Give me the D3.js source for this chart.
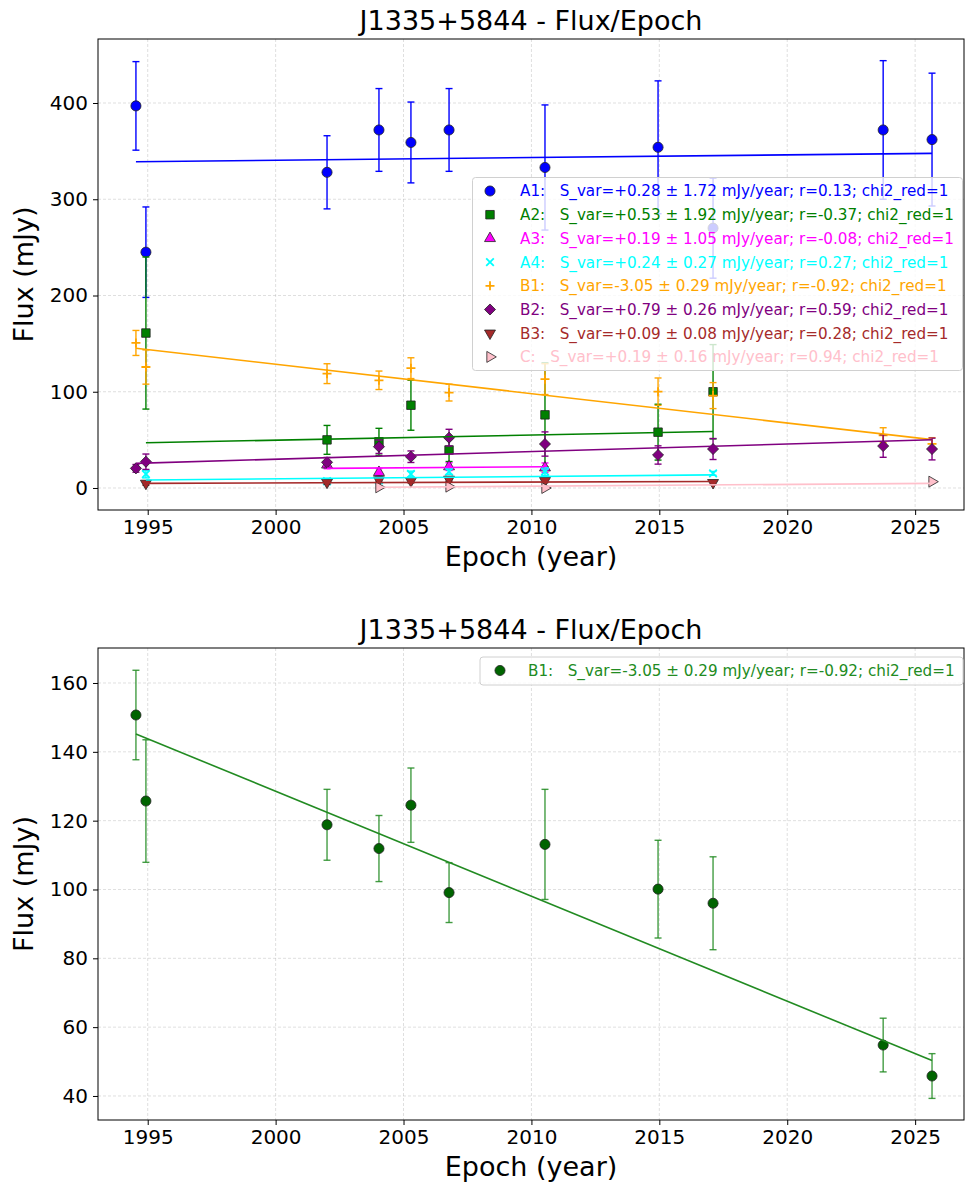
<!DOCTYPE html>
<html>
<head>
<meta charset="utf-8">
<script src="https://cdn.jsdelivr.net/npm/d3@7"></script>
<style>
  html, body { margin: 0; padding: 0; background: #fff; }
  svg { display: block; font-family: "DejaVu Sans", sans-serif; }
  .leg text { white-space: pre; }
</style>
</head>
<body>
<svg id="chart" width="965" height="1185"></svg>
<script>
// Observation epochs (decimal year)
const epochsAll = [1994.54, 1994.93, 2002.01, 2004.04, 2005.29, 2006.78, 2010.53, 2014.95, 2017.10, 2023.75, 2025.66];
const epochsA2 = [1994.93, 2002.01, 2004.04, 2005.29, 2006.78, 2010.53, 2014.95, 2017.10];
const epochsA3 = [2002.01, 2004.04, 2006.78, 2010.53];
const epochsA4 = [1994.93, 2002.01, 2004.04, 2005.29, 2006.78, 2010.53, 2017.10];
const epochsB3 = [1994.93, 2002.01, 2004.04, 2005.29, 2006.78, 2010.53, 2017.10];
const epochsC  = [2004.04, 2006.78, 2010.53, 2025.66];

// Component flux densities (mJy) and 1-sigma errors
const fluxA1 = [397, 245, 328, 372, 359, 372, 333, 354, 270, 372, 362];
const errA1  = [46, 47, 38, 43, 42, 43, 65, 69, 52, 72, 69];
const fluxA2 = [161, 50, 48, 86, 39.5, 76, 58, 100];
const errA2  = [79, 15, 14, 26, 12, 54, 29, 49];
const fluxA3 = [24, 16.3, 22.2, 21];
const errA3  = [4, 4, 4, 5];
const fluxA4 = [14.5, 7, 8, 14.5, 17, 17, 15.2];
const errA4  = [4, 3, 3, 3, 3, 4, 2];
const fluxB1 = [150.7, 125.7, 118.8, 111.9, 124.5, 99.1, 113.1, 100.1, 96.0, 54.8, 45.8];
const errB1  = [13.0, 17.8, 10.3, 9.6, 10.8, 8.7, 16.0, 14.2, 13.5, 7.8, 6.5];
const fluxB2 = [20.4, 27.3, 26.7, 42.9, 32.5, 52.3, 45.7, 34.3, 40.5, 43.6, 40.5];
const errB2  = [4, 8, 5, 7, 6, 8.7, 12.6, 9.5, 10.9, 11.7, 11.3];
const fluxB3 = [4.8, 5.9, 8.3, 7.3, 9.0, 7.6, 5.5];
const errB3  = [2, 2, 2, 2, 2, 2, 2];
const fluxC  = [0.7, 1.4, 0.0, 6.6];
const errC   = [1, 1, 1, 1];

// Linear fit: flux at first epoch and slope (mJy/year)
const fitStart = { A1: 339.0, A2: 47.0, A3: 20.4, A4: 8.3, B1: 145.2, B2: 25.6, B3: 4.8, C: 0.7 };
const fitSlope = { A1: 0.28, A2: 0.53, A3: 0.19, A4: 0.24, B1: -3.05, B2: 0.79, B3: 0.09, C: 0.19 };

// Legend texts
const legendText = {
  A1: "A1:   S_var=+0.28 ± 1.72 mJy/year; r=0.13; chi2_red=1",
  A2: "A2:   S_var=+0.53 ± 1.92 mJy/year; r=-0.37; chi2_red=1",
  A3: "A3:   S_var=+0.19 ± 1.05 mJy/year; r=-0.08; chi2_red=1",
  A4: "A4:   S_var=+0.24 ± 0.27 mJy/year; r=0.27; chi2_red=1",
  B1: "B1:   S_var=-3.05 ± 0.29 mJy/year; r=-0.92; chi2_red=1",
  B2: "B2:   S_var=+0.79 ± 0.26 mJy/year; r=0.59; chi2_red=1",
  B3: "B3:   S_var=+0.09 ± 0.08 mJy/year; r=0.28; chi2_red=1",
  C:  "C:   S_var=+0.19 ± 0.16 mJy/year; r=0.94; chi2_red=1"
};

// Axis ticks
const xTicks = [1995, 2000, 2005, 2010, 2015, 2020, 2025];
const yTicksTop = [0, 100, 200, 300, 400];
const yTicksBottom = [40, 60, 80, 100, 120, 140, 160];

const titleText = "J1335+5844 - Flux/Epoch";

const seriesTop = [
  { key: "A1", t: epochsAll, f: fluxA1, e: errA1, color: "#0000ff", marker: "circle" },
  { key: "A2", t: epochsA2, f: fluxA2, e: errA2, color: "#008000", marker: "square" },
  { key: "A3", t: epochsA3, f: fluxA3, e: errA3, color: "#ff00ff", marker: "triUp" },
  { key: "A4", t: epochsA4, f: fluxA4, e: errA4, color: "#00ffff", marker: "x" },
  { key: "B1", t: epochsAll, f: fluxB1, e: errB1, color: "#ffa500", marker: "plus" },
  { key: "B2", t: epochsAll, f: fluxB2, e: errB2, color: "#800080", marker: "diamond" },
  { key: "B3", t: epochsB3, f: fluxB3, e: errB3, color: "#a52a2a", marker: "triDown" },
  { key: "C",  t: epochsC,  f: fluxC,  e: errC,  color: "#ffc0cb", marker: "triRight" }
];

const seriesBottom = [
  { key: "B1", t: epochsAll, f: fluxB1, e: errB1, color: "#228b22", fill: "#006400", marker: "circle" }
];

const svg = d3.select("#chart");

function markerPath(type) {
  switch (type) {
    case "circle": return d3.symbol(d3.symbolCircle, 80)();
    case "square": return d3.symbol(d3.symbolSquare, 72)();
    case "triUp": return d3.symbol(d3.symbolTriangle, 52)();
    case "triDown": return d3.symbol(d3.symbolTriangle, 52)();
    case "triRight": return d3.symbol(d3.symbolTriangle, 52)();
    case "diamond": return d3.symbol(d3.symbolDiamond2, 78)();
    case "x": return "M-3.8,-3.8L3.8,3.8M-3.8,3.8L3.8,-3.8";
    case "plus": return "M-4.5,0L4.5,0M0,-4.5L0,4.5";
  }
}
function markerRotate(type) {
  if (type === "triDown") return 180;
  if (type === "triRight") return 90;
  return 0;
}
function styleMarker(sel, s) {
  const open = s.marker === "x" || s.marker === "plus";
  sel.attr("d", markerPath(s.marker))
    .attr("fill", open ? "none" : (s.fill || s.color))
    .attr("stroke", open ? s.color : "#222")
    .attr("stroke-width", open ? 1.8 : 0.8);
}

function drawPanel(cfg) {
  const { left, right, top, bottom, xDomain, yDomain, yTicks, series, legend } = cfg;
  const x = d3.scaleLinear().domain(xDomain).range([left, right]);
  const y = d3.scaleLinear().domain(yDomain).range([bottom, top]);
  const g = svg.append("g");

  // grid
  g.append("g").selectAll("line").data(xTicks).join("line")
    .attr("x1", d => x(d)).attr("x2", d => x(d)).attr("y1", top).attr("y2", bottom)
    .attr("stroke", "#b0b0b0").attr("stroke-opacity", 0.5).attr("stroke-width", 0.8).attr("stroke-dasharray", "3,2");
  g.append("g").selectAll("line").data(yTicks).join("line")
    .attr("y1", d => y(d)).attr("y2", d => y(d)).attr("x1", left).attr("x2", right)
    .attr("stroke", "#b0b0b0").attr("stroke-opacity", 0.5).attr("stroke-width", 0.8).attr("stroke-dasharray", "3,2");

  const clip = "clip" + top;
  svg.append("clipPath").attr("id", clip).append("rect")
    .attr("x", left).attr("y", top).attr("width", right - left).attr("height", bottom - top);
  const plot = g.append("g").attr("clip-path", `url(#${clip})`);

  series.forEach(s => {
    const pts = s.t.map((t, i) => ({ t, f: s.f[i], e: s.e[i] }));
    const sg = plot.append("g");
    const eb = sg.append("g").attr("stroke", s.color).attr("stroke-width", 1.4)
      .attr("stroke-opacity", cfg.errOpacity || 1);
    eb.selectAll("line.v").data(pts).join("line").attr("class", "v")
      .attr("x1", d => x(d.t)).attr("x2", d => x(d.t))
      .attr("y1", d => y(d.f - d.e)).attr("y2", d => y(d.f + d.e));
    eb.selectAll("line.c1").data(pts).join("line").attr("class", "c1")
      .attr("x1", d => x(d.t) - 3.5).attr("x2", d => x(d.t) + 3.5)
      .attr("y1", d => y(d.f + d.e)).attr("y2", d => y(d.f + d.e));
    eb.selectAll("line.c2").data(pts).join("line").attr("class", "c2")
      .attr("x1", d => x(d.t) - 3.5).attr("x2", d => x(d.t) + 3.5)
      .attr("y1", d => y(d.f - d.e)).attr("y2", d => y(d.f - d.e));
    sg.selectAll("path").data(pts).join("path")
      .call(styleMarker, s)
      .attr("transform", d => `translate(${x(d.t)},${y(d.f)}) rotate(${markerRotate(s.marker)})`);
  });

  // fit lines
  series.forEach(s => {
    const t0 = s.t[0], t1 = s.t[s.t.length - 1];
    const f0 = fitStart[s.key], f1 = f0 + fitSlope[s.key] * (t1 - t0);
    plot.append("line")
      .attr("x1", x(t0)).attr("x2", x(t1)).attr("y1", y(f0)).attr("y2", y(f1))
      .attr("stroke", s.color).attr("stroke-width", 1.6);
  });

  // axes
  const xa = g.append("g").attr("transform", `translate(0,${bottom})`)
    .call(d3.axisBottom(x).tickValues(xTicks).tickFormat(d3.format("d")).tickSizeOuter(0).tickSize(5).tickPadding(5));
  const ya = g.append("g").attr("transform", `translate(${left},0)`)
    .call(d3.axisLeft(y).tickValues(yTicks).tickFormat(d3.format("d")).tickSizeOuter(0).tickSize(5).tickPadding(5));
  [xa, ya].forEach(a => {
    a.select(".domain").remove();
    a.selectAll("text").attr("font-size", 20).attr("fill", "#000").attr("font-family", "DejaVu Sans");
    a.selectAll("line").attr("stroke", "#000");
  });
  g.append("rect").attr("x", left).attr("y", top).attr("width", right - left).attr("height", bottom - top)
    .attr("fill", "none").attr("stroke", "#000").attr("stroke-width", 1);

  g.append("text").attr("x", (left + right) / 2).attr("y", top - 9)
    .attr("text-anchor", "middle").attr("font-size", 27).text(titleText);
  g.append("text").attr("x", (left + right) / 2).attr("y", bottom + 56)
    .attr("text-anchor", "middle").attr("font-size", 27).text("Epoch (year)");
  g.append("text").attr("transform", `translate(33,${(top + bottom) / 2}) rotate(-90)`)
    .attr("text-anchor", "middle").attr("font-size", 27).text("Flux (mJy)");

  // legend
  const lg = g.append("g").attr("class", "leg");
  lg.append("rect").attr("x", legend.x).attr("y", legend.y).attr("width", legend.w).attr("height", legend.h)
    .attr("rx", 3).attr("fill", "#fff").attr("fill-opacity", 0.8).attr("stroke", "#d0d0d0").attr("stroke-width", 1);
  series.forEach((s, i) => {
    const cy = legend.y + legend.first + i * legend.step;
    lg.append("path").call(styleMarker, s)
      .attr("transform", `translate(${legend.mx},${cy}) rotate(${markerRotate(s.marker)})`);
    lg.append("text").attr("x", legend.tx).attr("y", cy).attr("dy", "0.36em")
      .attr("font-size", legend.fs).attr("fill", s.legendColor || s.color).text(legendText[s.key]);
  });
}

drawPanel({
  left: 98, right: 964, top: 39, bottom: 510,
  xDomain: [1993.057, 2026.91], yDomain: [-22.86, 466.5], yTicks: yTicksTop,
  series: seriesTop,
  legend: { x: 472.5, y: 177.5, w: 490, h: 193, first: 13.5, step: 23.7, mx: 490, tx: 520, fs: 15.2 }
});

drawPanel({
  left: 98, right: 964, top: 648, bottom: 1120,
  xDomain: [1993.057, 2026.91], yDomain: [33.02, 170.17], yTicks: yTicksBottom,
  series: seriesBottom, errOpacity: 0.85,
  legend: { x: 480, y: 657, w: 483, h: 28, first: 13.5, step: 23.7, mx: 500, tx: 528, fs: 15.2 }
});
</script>
</body>
</html>
